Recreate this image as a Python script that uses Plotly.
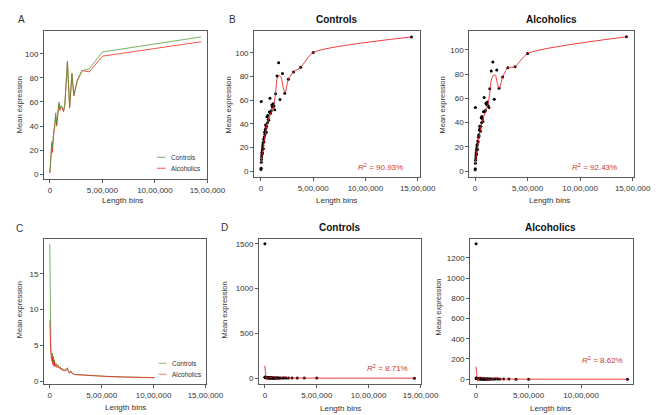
import plotly.graph_objects as go

W, H = 667, 415

# ---------------- data ----------------
# Panel A: mean expression vs length bins (lines)
a_x = [0, 5000, 12000, 18000, 24000, 30000, 36000, 43000, 50000, 56000, 65000, 73000,
       86000, 95000, 105000, 117000, 130000, 142000, 167000, 188000, 210000, 228000,
       260000, 305000, 375000, 500000, 1440000]
a_ctrl = [1, 10, 17, 27, 22, 32, 36, 39, 45, 51, 42, 48, 60, 55, 57, 56, 53, 58, 94, 56,
          84, 66, 78, 86, 87.5, 101.5, 114]
a_alc = [1, 9, 15, 24, 18, 30, 33, 37, 42, 48, 40, 46, 58, 53, 56, 55, 52, 57, 93, 55,
         83, 65, 77, 86, 85, 98, 110]

# Panels B / D: bins
bin_x = [500, 1500, 2500, 3500, 5000, 6500, 8000, 10000, 12000, 14000, 16000, 18000,
         20000, 23000, 26000, 29000, 32000, 35000, 38000, 41000, 44000, 47000, 50000,
         54000, 58000, 62000, 66000, 70000, 75000, 80000, 86000, 92000, 98000, 104000,
         110000, 117000, 124000, 132000, 140000, 154000, 169000, 182000, 206000, 228000,
         262000, 312000, 380000, 500000, 1440000]
b_ctrl = [1.5, 2.5, 58.8, 7.5, 10, 12, 14, 16, 18, 15, 20, 22, 24, 19, 27, 25, 29, 33,
          31, 35, 39, 36, 33, 38, 46, 41, 47, 44, 43, 50, 61.6, 49, 51, 56, 54, 57, 55,
          52, 65.5, 80.4, 91.6, 60.5, 82.6, 65.8, 77.6, 83.8, 87.7, 100.3, 113.4]
b_alc = [1.2, 2, 52.5, 6.5, 9, 11, 13, 15, 17, 14, 19, 21, 22, 18, 25, 24, 28, 30, 29,
         34, 37, 35, 33, 37, 44, 40, 45, 43, 41, 49, 60.7, 49, 50, 56, 55, 57, 54, 52.5,
         68, 82.5, 89.9, 59.3, 83.3, 68.3, 77.6, 85.2, 86, 97, 110.7]

fit_x = [0, 10000, 20000, 40000, 62000, 93000, 123000, 139000, 154000, 175000, 194000,
         210000, 230000, 262000, 312000, 380000, 500000, 1440000]
fit_ctrl = [6, 13, 19, 31, 41, 49, 56, 65, 78, 81, 79, 72, 66, 77.6, 83.8, 87.7, 100.3, 113.4]
fit_alc = [5, 12, 18, 30, 39, 48, 55, 64, 75, 79, 79, 73, 68, 77.6, 85.2, 86, 97, 110.7]
r2_b = ["90.93%", "92.43%"]

# Panel C
c_x = [0, 3000, 6000, 10000, 15000, 20000, 25000, 30000, 35000, 40000, 45000, 50000,
       60000, 70000, 80000, 90000, 100000, 110000, 120000, 130000, 140000, 150000,
       160000, 170000, 180000, 190000, 200000, 210000, 240000, 300000, 400000, 540000,
       700000, 1010000]
c_ctrl = [19.2, 12, 7, 4.5, 3.8, 3.2, 3.9, 2.6, 3.5, 2.4, 3.0, 2.2, 2.5, 2.1, 2.3, 1.9,
          2.0, 1.7, 1.8, 1.5, 1.6, 1.45, 1.75, 1.85, 1.4, 1.15, 1.45, 1.2, 0.95, 0.88,
          0.75, 0.68, 0.6, 0.5]
c_alc = [8.5, 6.5, 5, 3.9, 3.3, 2.8, 3.4, 2.3, 3.0, 2.1, 2.7, 2.0, 2.3, 1.9, 2.1, 1.8,
         1.9, 1.6, 1.7, 1.45, 1.55, 1.4, 1.7, 1.8, 1.35, 1.1, 1.4, 1.15, 0.92, 0.86,
         0.73, 0.66, 0.58, 0.48]

# Panel D
d_ctrl = [1500, 14, 9, 11, 8, 10, 7, 9, 6, 8, 7, 6, 5, 7, 5, 6, 4, 5, 6, 4, 5, 4, 3, 5,
          4, 3, 4, 3, 4, 3, 3, 2, 3, 2, 3, 2, 2, 3, 2, 2, 2, 1.5, 1.5, 1.2, 1.1, 1.0,
          0.9, 0.7, 0.5]
d_alc = [1340, 13, 9, 10, 8, 9, 7, 8, 6, 7, 7, 6, 5, 6, 5, 5, 4, 5, 5, 4, 4, 4, 3, 4,
         4, 3, 4, 3, 3, 3, 3, 2, 3, 2, 2, 2, 2, 2, 2, 2, 2, 1.5, 1.4, 1.2, 1.1, 1.0,
         0.9, 0.7, 0.5]
dfit_x = [0, 8000, 16000, 35000, 60000, 80000, 100000, 134000, 166000, 197000, 230000,
          300000, 500000, 1440000]
dfit_ctrl = [140, 40, -20, 14, 5, 20, 2, -15, 10, 15, 0, 1, 0.5, 0]
dfit_alc = [125, 35, -20, 22, 10, 15, 3, -10, 8, 18, 0, 1, 0.5, 0]
r2_d = ["8.71%", "8.62%"]

x_tickvals = [0, 500000, 1000000, 1500000]
x_ticktext = ["0", "5,00,000", "10,00,000", "15,00,000"]

# ---------------- style ----------------
GREEN = "rgba(70,150,45,0.75)"
RED = "rgba(240,40,30,0.8)"
FIT = "rgba(232,38,43,0.9)"
R2C = "#cc3a30"
FONT = "Liberation Sans, Arial, sans-serif"
FRAME = "#5a5a5a"
TXT = "#333333"

fig = go.Figure()

# panels: (left, top, right, bottom) in pixels
boxes = {
    1: (37, 23, 205, 172),
    2: (253, 23, 423, 170),
    3: (474, 23, 643, 170),
    4: (37, 232, 204, 378),
    5: (258, 232, 424, 378),
    6: (475, 232, 642, 378),
}
xranges = {1: [-56000, 1500000], 2: [-65000, 1518000], 3: [-56000, 1509000],
           4: [-56000, 1510000], 5: [-56000, 1500000], 6: [-56000, 1490000]}
yranges = {1: [-4.1, 119], 2: [-5, 118.5], 3: [-4.9, 115.6],
           4: [-0.42, 19.9], 5: [-67, 1555], 6: [-49, 1387]}
yticks = {1: [0, 20, 40, 60, 80, 100], 2: [0, 20, 40, 60, 80, 100],
          3: [0, 20, 40, 60, 80, 100], 4: [0, 5, 10, 15],
          5: [0, 500, 1000, 1500], 6: [0, 200, 400, 600, 800, 1000, 1200]}

def ax(i):
    return ("x" if i == 1 else f"x{i}"), ("y" if i == 1 else f"y{i}")

# Panel A
xa, ya = ax(1)
fig.add_trace(go.Scatter(x=a_x, y=a_alc, mode="lines", line=dict(color=RED, width=1),
                         xaxis=xa, yaxis=ya, showlegend=False))
fig.add_trace(go.Scatter(x=a_x, y=a_ctrl, mode="lines", line=dict(color=GREEN, width=1),
                         xaxis=xa, yaxis=ya, showlegend=False))

# Panel B
for i, yv, fv in [(2, b_ctrl, fit_ctrl), (3, b_alc, fit_alc)]:
    xa, ya = ax(i)
    fig.add_trace(go.Scatter(x=bin_x, y=yv, mode="markers",
                             marker=dict(color="black", size=3),
                             xaxis=xa, yaxis=ya, showlegend=False))
    fig.add_trace(go.Scatter(x=fit_x, y=fv, mode="lines",
                             line=dict(color=FIT, width=1, shape="spline", smoothing=0.6),
                             xaxis=xa, yaxis=ya, showlegend=False))

# Panel C
xa, ya = ax(4)
fig.add_trace(go.Scatter(x=c_x, y=c_ctrl, mode="lines", line=dict(color=GREEN, width=1),
                         xaxis=xa, yaxis=ya, showlegend=False))
fig.add_trace(go.Scatter(x=c_x, y=c_alc, mode="lines", line=dict(color=RED, width=1),
                         xaxis=xa, yaxis=ya, showlegend=False))

# Panel D
for i, yv, fv in [(5, d_ctrl, dfit_ctrl), (6, d_alc, dfit_alc)]:
    xa, ya = ax(i)
    fig.add_trace(go.Scatter(x=bin_x, y=yv, mode="markers",
                             marker=dict(color="black", size=3),
                             xaxis=xa, yaxis=ya, showlegend=False))
    fig.add_trace(go.Scatter(x=dfit_x, y=fv, mode="lines",
                             line=dict(color=FIT, width=1, shape="spline", smoothing=0.8),
                             xaxis=xa, yaxis=ya, showlegend=False))

layout = dict(width=W, height=H, margin=dict(l=0, r=0, t=0, b=0),
              paper_bgcolor="white", plot_bgcolor="white",
              font=dict(family=FONT, color=TXT, size=8))
for i, (l, t, r, b) in boxes.items():
    xn = "xaxis" if i == 1 else f"xaxis{i}"
    yn = "yaxis" if i == 1 else f"yaxis{i}"
    xa, ya = ax(i)
    layout[xn] = dict(domain=[l / W, r / W], anchor=ya, range=xranges[i],
                      tickvals=x_tickvals, ticktext=x_ticktext, ticks="outside",
                      ticklen=3, tickcolor=FRAME, showline=True, linecolor=FRAME,
                      linewidth=1, mirror=True, showgrid=False, zeroline=False,
                      tickfont=dict(size=8, color=TXT))
    layout[yn] = dict(domain=[1 - b / H, 1 - t / H], anchor=xa, range=yranges[i],
                      tickvals=yticks[i], ticks="outside", ticklen=3, tickcolor=FRAME,
                      showline=True, linecolor=FRAME, linewidth=1, mirror=True,
                      showgrid=False, zeroline=False, tickfont=dict(size=8, color=TXT))
fig.update_layout(**layout)

ann = []
def txt(x, y, s, size=8, bold=False, color=TXT, angle=0, xanchor="center"):
    ann.append(dict(x=x / W, y=1 - y / H, xref="paper", yref="paper", text=s,
                    showarrow=False, textangle=angle, xanchor=xanchor, yanchor="middle",
                    font=dict(size=size, color=color, family=FONT,
                              weight="bold" if bold else "normal")))

# panel letters
txt(14, 12, "A", 10)
txt(231, 12, "B", 10)
txt(12, 222, "C", 10)
txt(223, 221, "D", 10)
# titles
txt(338, 12, "Controls", 10, True, "#111111")
txt(559, 12, "Alcoholics", 10, True, "#111111")
txt(341, 221, "Controls", 10, True, "#111111")
txt(558, 221, "Alcoholics", 10, True, "#111111")
# axis titles
for (x, y) in [(12, 97), (227, 97), (447, 97), (12, 303), (223, 303), (442, 301)]:
    txt(x, y, "Mean expression", 7.5, angle=-90)
for (x, y) in [(118, 193), (338, 193), (557, 193), (121, 401), (342, 402), (558, 402)]:
    txt(x, y, "Length bins", 8)
# R^2
txt(383, 160, f"<i>R</i><sup>2</sup> = {r2_b[0]}", 8, color=R2C)
txt(603, 160, f"<i>R</i><sup>2</sup> = {r2_b[1]}", 8, color=R2C)
txt(390, 362, f"<i>R</i><sup>2</sup> = {r2_d[0]}", 8, color=R2C)
txt(611, 354, f"<i>R</i><sup>2</sup> = {r2_d[1]}", 8, color=R2C)

# legends (decoration)
shapes = []
def leg(x0, x1, y, color, label):
    shapes.append(dict(type="line", xref="paper", yref="paper", x0=x0 / W, x1=x1 / W,
                       y0=1 - y / H, y1=1 - y / H, line=dict(color=color, width=1)))
    txt(x1 + 3, y, label, 6.5, xanchor="left")
leg(153, 162, 150, GREEN, "Controls")
leg(153, 162, 161, RED, "Alcoholics")
leg(155, 163, 357, "rgba(130,160,70,0.8)", "Controls")
leg(155, 163, 368, "rgba(240,90,70,0.8)", "Alcoholics")

fig.update_layout(annotations=ann, shapes=shapes)
fig.write_html("out.html")
